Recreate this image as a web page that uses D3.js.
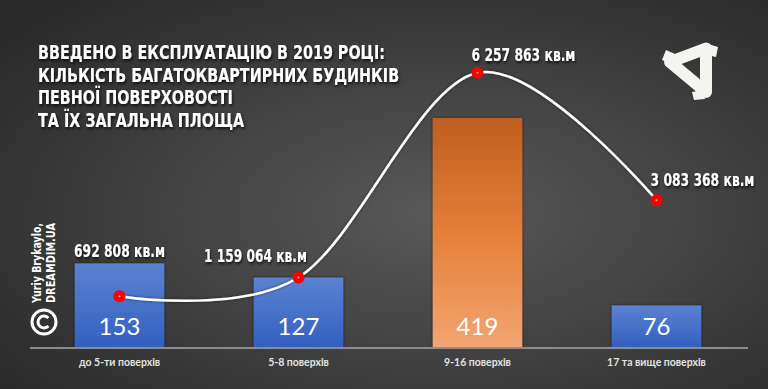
<!DOCTYPE html>
<meta charset="utf-8">
<title>Введено в експлуатацію в 2019 році</title>
<style>
body { margin: 0; background: #333; }
svg { display: block; }
.title text { font-family: "DejaVu Sans Condensed", "Liberation Sans Narrow", sans-serif; font-weight: bold; fill: #fff; }
.area-label { font-family: "DejaVu Sans Condensed", "Liberation Sans Narrow", sans-serif; font-weight: bold; fill: #fff; }
.bar-value { font-family: Lato, sans-serif; fill: #fff; }
.cat { font-family: Lato, sans-serif; font-weight: bold; fill: #e2e2e2; }
</style>
<svg width="768" height="389"></svg>
<script src="https://d3js.org/d3.v7.min.js"></script>
<script>

// data
var categories = ["до 5-ти поверхів", "5-8 поверхів", "9-16 поверхів", "17 та вище поверхів"];
var buildings = [153, 127, 419, 76];
var area = [692808, 1159064, 6257863, 3083368];
var areaUnit = "кв.м";
var titleLines = [
  "ВВЕДЕНО В ЕКСПЛУАТАЦІЮ В 2019 РОЦІ:",
  "КІЛЬКІСТЬ БАГАТОКВАРТИРНИХ БУДИНКІВ",
  "ПЕВНОЇ ПОВЕРХОВОСТІ",
  "ТА ЇХ ЗАГАЛЬНА ПЛОЩА"
];
var credit = ["Yuriy Brykaylo,", "DREAMDIM.UA"];

// where the area labels sit relative to their point, and how wide they are
var labelShift = [[0, -39], [-43, -15], [46, -12], [46, -14]];
var labelWidth = [91, 103, 104, 104];

var svg = d3.select("svg"),
    width = +svg.attr("width"),
    height = +svg.attr("height");

var defs = svg.append("defs");

var bg = defs.append("radialGradient").attr("id", "bg")
    .attr("cx", 0.57).attr("cy", 0.55).attr("r", 0.72);
bg.append("stop").attr("offset", 0).attr("stop-color", "#595959");
bg.append("stop").attr("offset", 1).attr("stop-color", "#2a2a2a");

var blue = defs.append("linearGradient").attr("id", "blue")
    .attr("x1", 0).attr("y1", 0).attr("x2", 0).attr("y2", 1);
blue.append("stop").attr("offset", 0).attr("stop-color", "#5b82d2");
blue.append("stop").attr("offset", 1).attr("stop-color", "#3360c0");

var orange = defs.append("linearGradient").attr("id", "orange")
    .attr("x1", 0).attr("y1", 0).attr("x2", 0).attr("y2", 1);
orange.append("stop").attr("offset", 0).attr("stop-color", "#bf5d1f");
orange.append("stop").attr("offset", 0.5).attr("stop-color", "#e57f38");
orange.append("stop").attr("offset", 1).attr("stop-color", "#f2a573");

var shadow = defs.append("filter").attr("id", "shadow")
    .attr("x", "-20%").attr("y", "-30%").attr("width", "140%").attr("height", "160%");
shadow.append("feDropShadow").attr("dx", 1).attr("dy", 2).attr("stdDeviation", 1.5)
    .attr("flood-color", "#000").attr("flood-opacity", 0.75);

var barShadow = defs.append("filter").attr("id", "barshadow")
    .attr("x", "-10%").attr("y", "-10%").attr("width", "120%").attr("height", "120%");
barShadow.append("feDropShadow").attr("dx", 0).attr("dy", 0).attr("stdDeviation", 1.5)
    .attr("flood-color", "#000").attr("flood-opacity", 0.6);

svg.append("rect").attr("width", width).attr("height", height).attr("fill", "url(#bg)");

// scales
var x = d3.scaleBand()
    .domain(categories)
    .range([30, 746])
    .paddingInner(0.5)
    .paddingOuter(0.25);

var y = d3.scaleLinear()
    .domain([0, 450])
    .range([347, 101]);

var y2 = d3.scaleLinear()
    .domain([0, 7000000])
    .range([324, 43]);

var fmt = d3.formatLocale({ decimal: ",", thousands: " ", grouping: [3], currency: ["", ""] }).format(",d");

// bars
svg.append("g").selectAll("rect")
  .data(buildings)
  .enter().append("rect")
    .attr("x", function(d, i) { return x(categories[i]); })
    .attr("y", function(d) { return y(d); })
    .attr("width", x.bandwidth())
    .attr("height", function(d) { return y(0) - y(d); })
    .attr("fill", function(d, i) { return i == 2 ? "url(#orange)" : "url(#blue)"; })
    .attr("filter", "url(#barshadow)");

// axis line
svg.append("line")
    .attr("x1", 30).attr("x2", 748)
    .attr("y1", y(0) + 1).attr("y2", y(0) + 1)
    .attr("stroke", "#8c8c8c").attr("stroke-width", 2);

// category labels
svg.append("g").selectAll("text")
  .data(categories)
  .enter().append("text")
    .attr("class", "cat")
    .attr("x", function(d) { return x(d) + x.bandwidth() / 2; })
    .attr("y", 366)
    .attr("text-anchor", "middle")
    .attr("font-size", 10.5)
    .text(function(d) { return d; });

// values inside the bars
svg.append("g").selectAll("text")
  .data(buildings)
  .enter().append("text")
    .attr("class", "bar-value")
    .attr("x", function(d, i) { return x(categories[i]) + x.bandwidth() / 2; })
    .attr("y", y(0) - 12)
    .attr("text-anchor", "middle")
    .attr("font-size", 24)
    .text(function(d) { return d; });

// smooth area line
var pts = area.map(function(d, i) { return [x(categories[i]) + x.bandwidth() / 2, y2(d)]; });

svg.append("path")
    .datum(pts)
    .attr("fill", "none")
    .attr("stroke", "#fff")
    .attr("stroke-width", 2.5)
    .attr("filter", "url(#barshadow)")
    .attr("d", d3.line().curve(d3.curveCardinal));

svg.append("g").selectAll("circle")
  .data(pts)
  .enter().append("circle")
    .attr("cx", function(d) { return d[0]; })
    .attr("cy", function(d) { return d[1]; })
    .attr("r", 6)
    .attr("fill", "#ff0000");

svg.append("g").selectAll("circle")
  .data(pts)
  .enter().append("circle")
    .attr("cx", function(d) { return d[0]; })
    .attr("cy", function(d) { return d[1]; })
    .attr("r", 1)
    .attr("fill", "#ff9a9a");

// area labels, squeezed horizontally to the condensed look
svg.append("g").selectAll("text")
  .data(area)
  .enter().append("text")
    .attr("class", "area-label")
    .attr("text-anchor", "middle")
    .attr("font-size", 17)
    .attr("filter", "url(#shadow)")
    .text(function(d) { return fmt(d) + " " + areaUnit; })
    .attr("transform", function(d, i) {
      var k = labelWidth[i] / this.getComputedTextLength();
      return "translate(" + (pts[i][0] + labelShift[i][0]) + "," + (pts[i][1] + labelShift[i][1]) + ") scale(" + k + ",1)";
    });

// title
var title = svg.append("g").attr("class", "title").attr("filter", "url(#shadow)");
title.selectAll("text")
  .data(titleLines)
  .enter().append("text")
    .attr("x", 38)
    .attr("y", function(d, i) { return 59 + i * 22.7; })
    .attr("font-size", 19.5)
    .text(function(d) { return d; });
var w0 = title.select("text").node().getComputedTextLength();
var sx = 347 / w0;
title.selectAll("text").each(function() {
  var w = this.getComputedTextLength();
  d3.select(this).attr("textLength", w * sx).attr("lengthAdjust", "spacingAndGlyphs");
});

// credit, rotated
var cr = svg.append("g").attr("transform", "translate(0,303) rotate(-90)");
cr.selectAll("text")
  .data(credit)
  .enter().append("text")
    .attr("x", 0)
    .attr("y", function(d, i) { return 41 + i * 14; })
    .attr("font-family", "'DejaVu Sans Condensed', sans-serif")
    .attr("font-weight", "bold")
    .attr("font-size", 13)
    .attr("fill", "#fff")
    .attr("textLength", 80)
    .attr("lengthAdjust", "spacingAndGlyphs")
    .text(function(d) { return d; });

var cc = svg.append("g").attr("transform", "translate(44,322)");
cc.append("circle").attr("r", 12).attr("fill", "none").attr("stroke", "#fff").attr("stroke-width", 3);
cc.append("path")
    .attr("d", d3.arc()({ innerRadius: 4.5, outerRadius: 7.5, startAngle: 0.75, endAngle: 2 * Math.PI - 0.75 }))
    .attr("transform", "rotate(90)")
    .attr("fill", "#fff");

// logo: rounded triangular ring with three tabs
var logo = svg.append("g").attr("fill", "#f4f4f0");
logo.append("path")
    .attr("fill", "none")
    .attr("stroke", "#f4f4f0")
    .attr("stroke-width", 12)
    .attr("stroke-linejoin", "round")
    .attr("d", "M670,62 L706,48.5 L706,92 Z");
logo.append("path").attr("d", "M662,60 L666,50 L675,54 L671,64 Z");
logo.append("path").attr("d", "M708,44 L718,47 L716,57 L707,55 Z");
logo.append("path").attr("d", "M692,92 L703,90 L705,99 L694,100 Z");

</script>
